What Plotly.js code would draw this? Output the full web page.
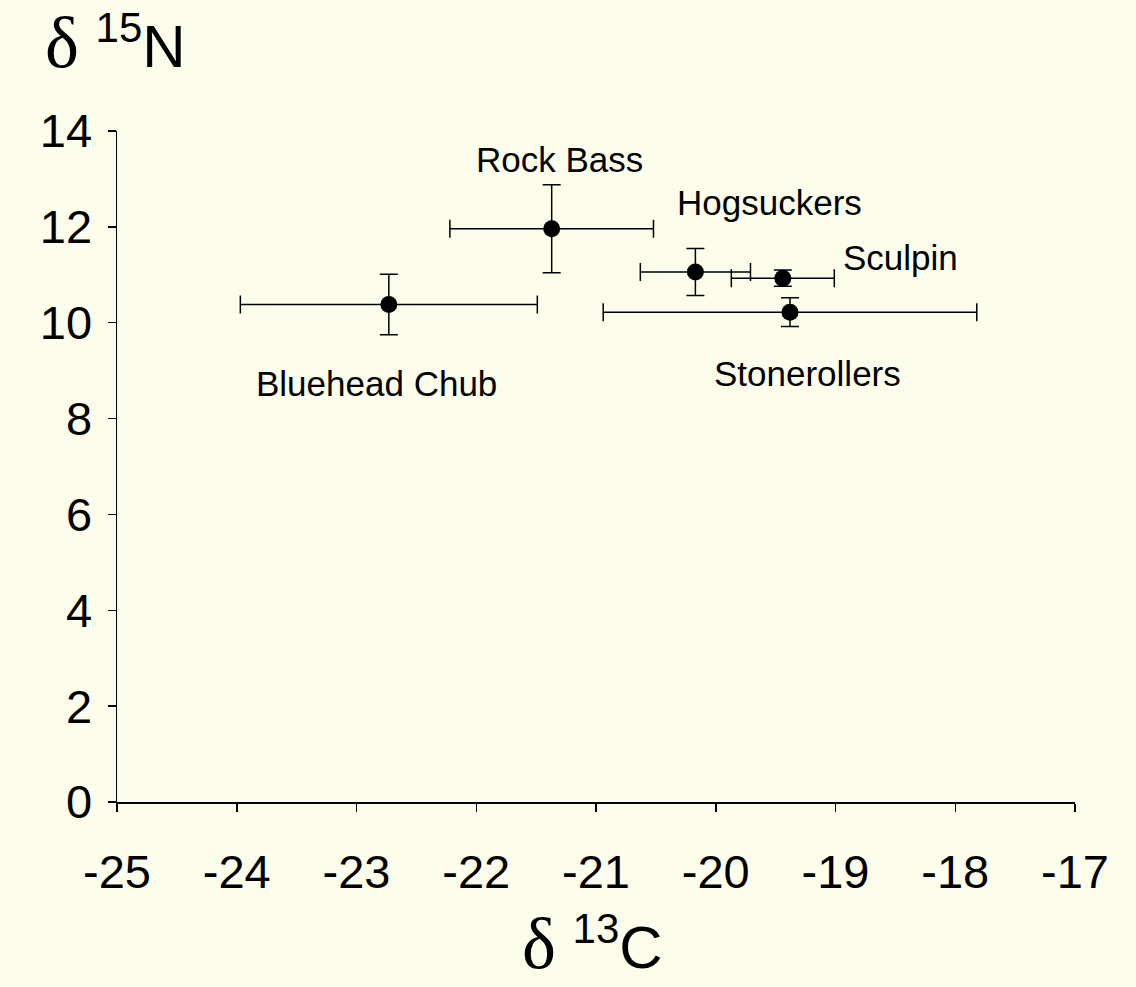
<!DOCTYPE html>
<html>
<head>
<meta charset="utf-8">
<script src="https://cdn.plot.ly/plotly-3.0.1.min.js"></script>
<style>
  html, body { margin: 0; padding: 0; background: #fdfdeb; }
  #chart { width: 1136px; height: 987px; }
</style>
</head>
<body>
<div id="chart"></div>
<script>
// Data
const species = ['Bluehead Chub', 'Rock Bass', 'Hogsuckers', 'Sculpin', 'Stonerollers'];
const d13C = [-22.73, -21.37, -20.17, -19.44, -19.38];
const d13CErr = [1.24, 0.85, 0.46, 0.43, 1.56];
const d15N = [10.38, 11.96, 11.06, 10.93, 10.22];
const d15NErr = [0.63, 0.92, 0.49, 0.17, 0.30];
const xTicks = [-25, -24, -23, -22, -21, -20, -19, -18, -17];
const yTicks = [0, 2, 4, 6, 8, 10, 12, 14];

// Label placement (pixel offsets from each point)
const labelShiftX = [-12, 8, 74, 118, 17];
const labelShiftY = [-79, 69, 69, 21, -61];

const bg = '#fdfdeb';
const fontSans = 'Liberation Sans, Arial, sans-serif';
const deltaSpan = '<span style="font-family:Liberation Serif, Times New Roman, serif;font-size:72px">δ</span>';

const trace = {
  x: d13C,
  y: d15N,
  type: 'scatter',
  mode: 'markers',
  marker: { color: '#000000', size: 17 },
  error_x: { type: 'data', array: d13CErr, visible: true, color: '#000000', thickness: 1.5, width: 9 },
  error_y: { type: 'data', array: d15NErr, visible: true, color: '#000000', thickness: 1.5, width: 9 },
  hoverinfo: 'x+y+text',
  text: species,
  showlegend: false
};

const annotations = species.map((s, i) => ({
  x: d13C[i], y: d15N[i], xref: 'x', yref: 'y',
  text: s, showarrow: false,
  xshift: labelShiftX[i], yshift: labelShiftY[i],
  xanchor: 'center', yanchor: 'middle',
  font: { family: fontSans, size: 35, color: '#000000' }
}));

annotations.push({
  xref: 'paper', yref: 'paper', x: 0, y: 1,
  xanchor: 'left', yanchor: 'bottom',
  xshift: -74, yshift: 46,
  showarrow: false,
  text: deltaSpan + ' <sup>15</sup>N',
  font: { family: fontSans, size: 60, color: '#000000' }
});
annotations.push({
  xref: 'paper', yref: 'paper', x: 0.5, y: 0,
  xanchor: 'center', yanchor: 'top',
  xshift: -4, yshift: -100,
  showarrow: false,
  text: deltaSpan + ' <sup>13</sup>C',
  font: { family: fontSans, size: 60, color: '#000000' }
});

const layout = {
  width: 1136,
  height: 987,
  margin: { l: 117, r: 61, t: 131, b: 185 },
  paper_bgcolor: bg,
  plot_bgcolor: bg,
  xaxis: {
    range: [-25, -17],
    tickvals: xTicks,
    ticktext: xTicks.map(String),
    showgrid: false, zeroline: false,
    showline: true, linecolor: '#000000', linewidth: 1.5,
    ticks: 'outside', ticklen: 8, tickwidth: 1.5, tickcolor: '#000000',
    ticklabelstandoff: 20,
    tickfont: { family: fontSans, size: 47, color: '#000000' }
  },
  yaxis: {
    range: [0, 14],
    tickvals: yTicks,
    ticktext: yTicks.map(String),
    showgrid: false, zeroline: false,
    showline: true, linecolor: '#000000', linewidth: 1.5,
    ticks: 'outside', ticklen: 8, tickwidth: 1.5, tickcolor: '#000000',
    ticklabelstandoff: 6,
    tickfont: { family: fontSans, size: 47, color: '#000000' }
  },
  annotations: annotations
};

Plotly.newPlot('chart', [trace], layout, { displayModeBar: false, staticPlot: true });
</script>
</body>
</html>
